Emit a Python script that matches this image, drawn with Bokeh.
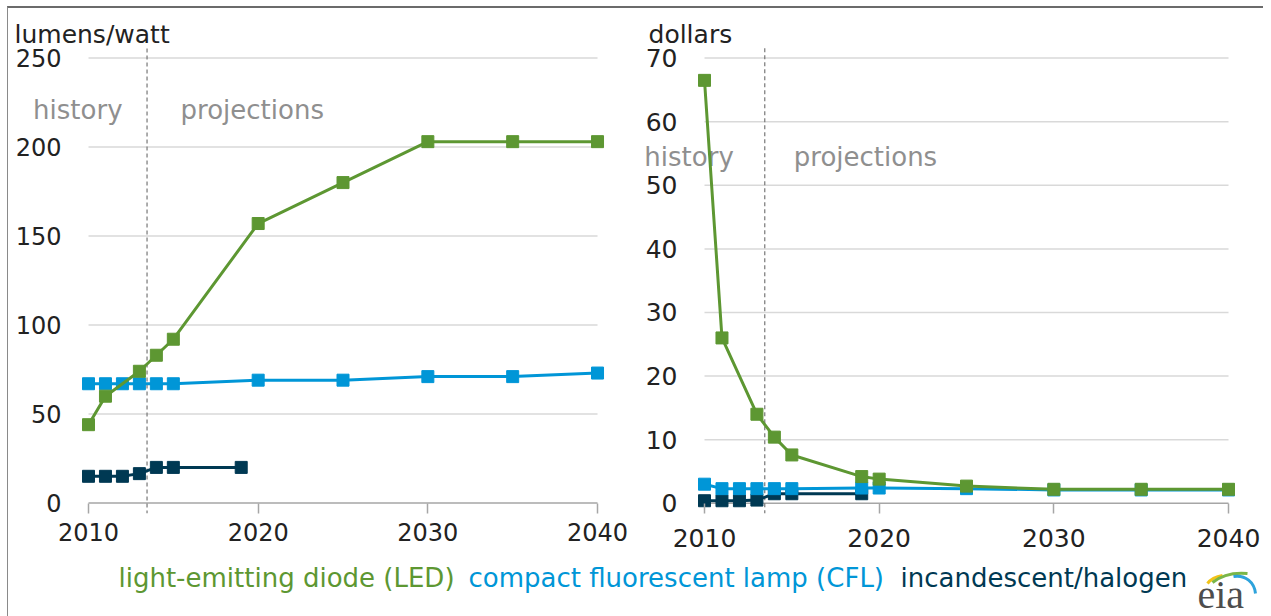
from bokeh.plotting import figure
from bokeh.models import FixedTicker, Range1d, Label
from bokeh.layouts import column, row
from bokeh.embed import file_html
from bokeh.resources import INLINE
from bokeh.core.properties import value

# ---------------- data ----------------
# Left panel: efficacy (lumens/watt)
led_eff_years = [2010, 2011, 2013, 2014, 2015, 2020, 2025, 2030, 2035, 2040]
led_eff = [44, 60, 74, 83, 92, 157, 180, 203, 203, 203]
cfl_eff_years = [2010, 2011, 2012, 2013, 2014, 2015, 2020, 2025, 2030, 2035, 2040]
cfl_eff = [67, 67, 67, 67, 67, 67, 69, 69, 71, 71, 73]
inc_eff_years = [2010, 2011, 2012, 2013, 2014, 2015, 2019]
inc_eff = [15, 15, 15, 16.5, 20, 20, 20]

# Right panel: price (dollars)
led_price_years = [2010, 2011, 2013, 2014, 2015, 2019, 2020, 2025, 2030, 2035, 2040]
led_price = [66.5, 26, 14, 10.4, 7.6, 4.2, 3.8, 2.7, 2.2, 2.2, 2.2]
cfl_price_years = [2010, 2011, 2012, 2013, 2014, 2015, 2019, 2020, 2025, 2030, 2035, 2040]
cfl_price = [3.0, 2.3, 2.3, 2.3, 2.3, 2.3, 2.4, 2.4, 2.3, 2.1, 2.1, 2.1]
inc_price_years = [2010, 2011, 2012, 2013, 2014, 2015, 2019]
inc_price = [0.4, 0.4, 0.4, 0.5, 1.5, 1.5, 1.5]

x_ticks = [2010, 2020, 2030, 2040]
left_y_ticks = [0, 50, 100, 150, 200, 250]
right_y_ticks = [0, 10, 20, 30, 40, 50, 60, 70]
history_end = 2013.45

series_names = ["light-emitting diode (LED)", "compact fluorescent lamp (CFL)", "incandescent/halogen"]

# ---------------- style ----------------
FONT = "DejaVu Sans"
GREEN = "#5d9732"
BLUE = "#0096d7"
NAVY = "#003953"
GRID = "#d9d9d9"
AXIS = "#a6a6a6"
GRAY_TXT = "#8f8f8f"
TXT = "#222222"
ROW_H = 555


def txt(p, x, y, s, color, size, align="left", baseline="alphabetic", x_offset=0):
    p.text(x=[x], y=[y], text=[s], text_color=color, text_font=value(FONT),
           text_font_size=size, text_align=align, text_baseline=baseline, x_offset=x_offset)


def make_panel(width, xr, yr, frame_h, yticks, font_size, standoff):
    p = figure(width=width, height=ROW_H, x_range=Range1d(xr[0], xr[1]), y_range=Range1d(yr[0], yr[1]),
               min_border_left=0, min_border_right=0, min_border_top=0,
               min_border_bottom=ROW_H - frame_h, y_axis_location=None,
               toolbar_location=None, output_backend="svg")
    p.outline_line_color = None
    p.xgrid.visible = False
    p.ygrid.visible = False
    # gridlines limited to 2010..2040 (the zero line doubles as the x axis line)
    p.segment(x0=[x_ticks[0]] * len(yticks), x1=[x_ticks[-1]] * len(yticks), y0=yticks, y1=yticks,
              line_color=[AXIS if t == 0 else GRID for t in yticks], line_width=1.5)
    # y tick labels, right-aligned left of 2010
    p.text(x=[x_ticks[0]] * len(yticks), y=yticks, text=[str(t) for t in yticks],
           x_offset=-27, text_align="right", text_baseline="middle",
           text_font=value(FONT), text_font_size=font_size, text_color=TXT)
    xa = p.xaxis[0]
    xa.ticker = FixedTicker(ticks=x_ticks)
    xa.bounds = (x_ticks[0], x_ticks[-1])
    xa.axis_line_color = None
    xa.major_tick_line_color = AXIS
    xa.major_tick_line_width = 1.5
    xa.major_tick_out = 0
    xa.major_tick_in = 10
    xa.minor_tick_line_color = None
    xa.major_label_standoff = standoff
    xa.major_label_text_font = FONT
    xa.major_label_text_font_size = font_size
    xa.major_label_text_color = TXT
    return p


def add_series(p, xs, ys, color):
    p.line(xs, ys, line_color=color, line_width=3)
    p.scatter(xs, ys, marker="square", size=12, fill_color=color, line_color=color)


# ---------------- left panel ----------------
p1 = make_panel(622, (2005.285, 2041.944), (-5.9, 277.8), 505, left_y_ticks, "24px", 9)
txt(p1, x_ticks[0], 263.2, "lumens/watt", TXT, "25px", x_offset=-74)
txt(p1, history_end, 220.5, "history", GRAY_TXT, "26px", align="right", x_offset=-24.5)
txt(p1, history_end, 220.5, "projections", GRAY_TXT, "26px", x_offset=33.5)
p1.segment(x0=[history_end], x1=[history_end], y0=[255.3], y1=[-5.9],
           line_color="#777777", line_width=1.2, line_dash="4 3")
add_series(p1, inc_eff_years, inc_eff, NAVY)
add_series(p1, cfl_eff_years, cfl_eff, BLUE)
add_series(p1, led_eff_years, led_eff, GREEN)

# ---------------- right panel ----------------
p2 = make_panel(633, (2005.763, 2042.003), (-1.607, 77.8), 509, right_y_ticks, "25px", 15)
txt(p2, x_ticks[0], 73.7, "dollars", TXT, "25px", x_offset=-56)
txt(p2, history_end, 54.5, "history", GRAY_TXT, "26px", align="right", x_offset=-31)
txt(p2, history_end, 54.5, "projections", GRAY_TXT, "26px", x_offset=29)
p2.segment(x0=[history_end], x1=[history_end], y0=[71.56], y1=[-1.607],
           line_color="#777777", line_width=1.2, line_dash="4 3")
add_series(p2, inc_price_years, inc_price, NAVY)
add_series(p2, cfl_price_years, cfl_price, BLUE)
add_series(p2, led_price_years, led_price, GREEN)

# ---------------- legend strip (transparent, slightly overlapping the row above) ----------------
leg = figure(width=1255, height=63, x_range=Range1d(0, 1255), y_range=Range1d(0, 63),
             min_border=0, toolbar_location=None, output_backend="svg",
             x_axis_type=None, y_axis_type=None,
             styles={"margin-top": "-10px"})
leg.outline_line_color = None
leg.background_fill_color = None
leg.border_fill_color = None
leg.xgrid.visible = False
leg.ygrid.visible = False
for name, color, xpos in zip(series_names, [GREEN, BLUE, NAVY], [110, 460, 892]):
    leg.add_layout(Label(x=xpos, y=39, text=name, text_font=FONT, text_font_size="26px",
                         text_color=color, text_baseline="alphabetic"))
# eia logo
leg.bezier(x0=[1199], y0=[33], x1=[1214], y1=[41], cx0=[1202], cy0=[37], cx1=[1208], cy1=[40],
           line_color="#f2c318", line_width=3)
leg.bezier(x0=[1204], y0=[34], x1=[1239], y1=[43], cx0=[1214], cy0=[42], cx1=[1228], cy1=[44],
           line_color="#7ab648", line_width=3)
leg.bezier(x0=[1225], y0=[40], x1=[1247], y1=[23], cx0=[1237], cy0=[42], cx1=[1246], cy1=[34],
           line_color="#2ea3dc", line_width=3)
leg.add_layout(Label(x=1189, y=0, text="eia", text_font="Liberation Serif", text_font_size="40px",
                     text_color="#4d4d4d", text_baseline="bottom"))

layout = column(row(p1, p2), leg,
                styles={"margin-left": "7px", "margin-top": "6px",
                        "border-left": "1px solid #8a8a8a", "border-top": "2px solid #6b6b6b"})
open("out.html", "w").write(file_html(layout, INLINE))
